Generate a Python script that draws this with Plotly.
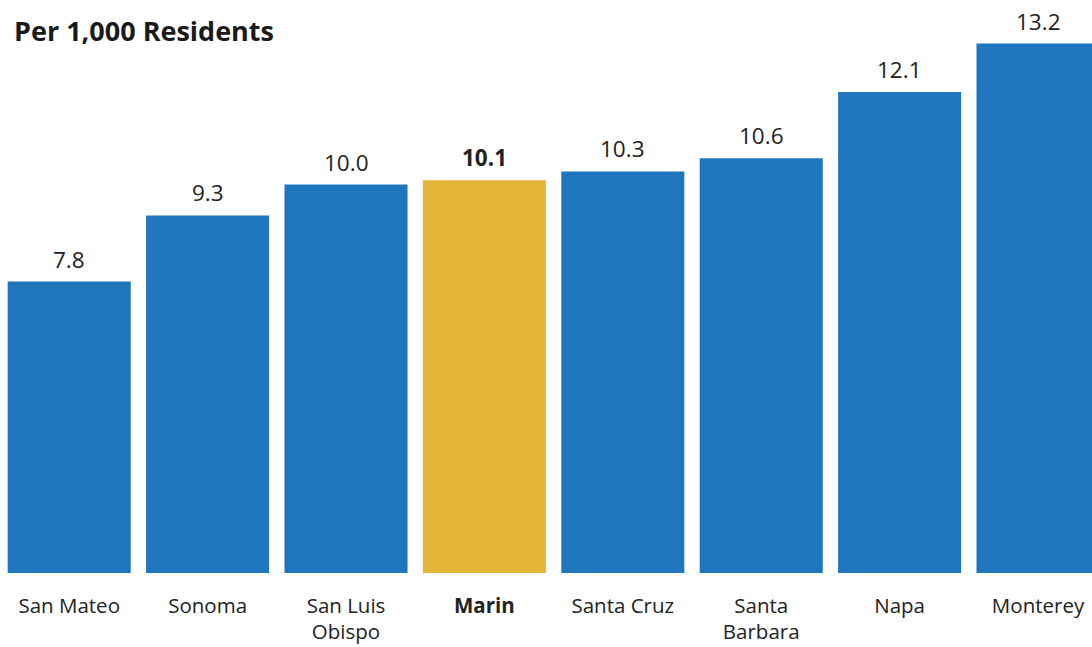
import plotly.graph_objects as go

counties = ["San Mateo", "Sonoma", "San Luis<br>Obispo", "Marin", "Santa Cruz",
            "Santa<br>Barbara", "Napa", "Monterey"]
values = [7.8, 9.3, 10.0, 10.1, 10.3, 10.6, 12.1, 13.2]
highlight = "Marin"
title_text = "Per 1,000 Residents"

BLUE = "#1f76bd"
GOLD = "#e5b53a"
FONT = "Open Sans"

colors = [GOLD if c == highlight else BLUE for c in counties]
tick_text = [f"<b>{c}</b>" if c == highlight else c for c in counties]
label_text = [f"<b>{v:.1f}</b>" if c == highlight else f"{v:.1f}" for c, v in zip(counties, values)]

fig = go.Figure()
fig.add_trace(go.Bar(x=counties, y=values, marker=dict(color=colors, line=dict(width=0)),
                     hoverinfo="skip"))

for c, v, t in zip(counties, values, label_text):
    fig.add_annotation(x=c, y=v, text=t, showarrow=False, yanchor="bottom", yshift=5,
                       font=dict(family=FONT, size=22.5, color="#222222"))

fig.add_annotation(xref="paper", yref="paper", x=0.011, y=1, xanchor="left", yanchor="middle",
                   yshift=10, text=f"<b>{title_text}</b>", showarrow=False,
                   font=dict(family=FONT, size=27, color="#1a1a1a"))

fig.update_layout(
    width=1092, height=647,
    margin=dict(l=0, r=0, t=40, b=74, autoexpand=False),
    paper_bgcolor="white", plot_bgcolor="white",
    bargap=0.111, showlegend=False,
    xaxis=dict(range=[-0.5, 7.39], tickvals=counties, ticktext=tick_text, showgrid=False,
               showline=False, zeroline=False, ticks="", ticklabelstandoff=18, automargin=False,
               tickfont=dict(family=FONT, size=20.5, color="#222222")),
    yaxis=dict(range=[1.19, 13.28], visible=False, showgrid=False, zeroline=False),
)

fig.write_html("out.html")
